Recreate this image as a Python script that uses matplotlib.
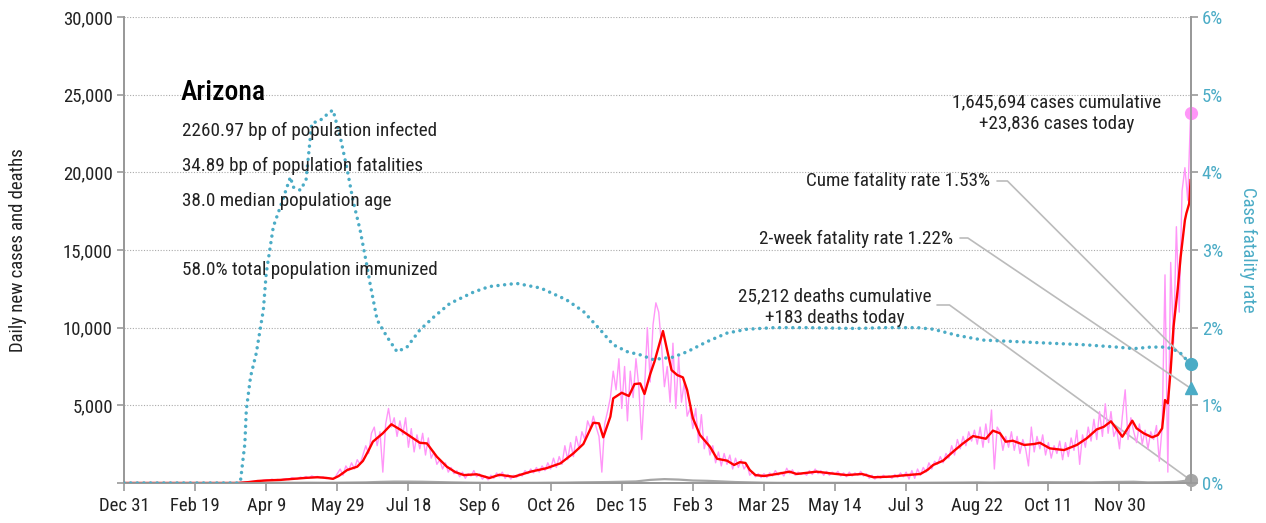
import numpy as np
import pandas as pd
import matplotlib
matplotlib.use("Agg")
import matplotlib.pyplot as plt
from matplotlib import font_manager
from matplotlib.ticker import FuncFormatter

# ---- data ----
start = pd.Timestamp("2019-12-31")

# daily new cases, one reading every 2 days (Dec 31 2019 .. Jan 19 2022)
cases_raw = [
    0, 0, 0, 0, 0, 0, 0, 0, 0, 0, 0, 0, 0, 0, 0, 0, 0, 0, 0, 0, 0, 0, 0, 0, 0,
    0, 0, 0, 0, 0, 0, 0, 0, 0, 0, 0, 0, 0, 0, 0, 10, 30, 50, 60, 90, 100, 120, 150, 130, 180,
    200, 160, 250, 180, 230, 190, 250, 280, 210, 350, 300, 260, 380, 330, 420, 300, 460, 380, 420, 350, 400, 280, 330, 250, 300,
    600, 900, 500, 1100, 800, 1300, 900, 1500, 1200, 1800, 2400, 1900, 3200, 3600, 2400, 3300, 700, 3800, 4800, 3600, 4200, 3000, 4000, 3100, 4200,
    2300, 3500, 2000, 3100, 2200, 3200, 1800, 2900, 1600, 2000, 1200, 1500, 900, 1300, 700, 1000, 600, 800, 400, 700, 300, 600, 450, 800, 400,
    600, 250, 450, 200, 500, 300, 650, 400, 700, 300, 550, 250, 500, 350, 600, 450, 800, 600, 900, 650, 1000, 700, 1100, 800, 1300,
    900, 1600, 1000, 1700, 1200, 2400, 1500, 2600, 1700, 3000, 2200, 3300, 2800, 4000, 3500, 4300, 3600, 3000, 700, 3800, 4600, 5500, 7200, 6000, 8000,
    4800, 7500, 4000, 7200, 5500, 8000, 6200, 2800, 6000, 10000, 6500, 10200, 11600, 11000, 8800, 6200, 7500, 5200, 9000, 4800, 8100, 5200, 6500, 4300, 4800,
    3500, 4800, 2600, 4400, 2200, 3000, 1800, 2400, 1300, 2000, 1100, 1900, 1200, 1800, 900, 1600, 1000, 1500, 900, 1200, 500, 700, 400, 600, 350,
    600, 350, 650, 450, 800, 500, 700, 450, 950, 600, 850, 500, 700, 550, 650, 500, 800, 550, 900, 600, 800, 500, 750, 500, 700,
    550, 750, 450, 650, 400, 700, 450, 650, 500, 750, 450, 600, 300, 500, 250, 450, 300, 500, 350, 450, 300, 550, 350, 650, 400,
    700, 250, 800, 300, 900, 500, 1000, 700, 1300, 900, 1400, 1200, 1700, 1300, 1900, 1600, 2400, 1800, 2800, 2200, 3000, 2400, 3300, 2700, 3400,
    2500, 3600, 2300, 3800, 2600, 4700, 900, 3600, 3300, 2100, 3000, 2300, 3300, 2100, 3000, 1900, 2800, 2200, 1100, 3600, 2000, 3000, 2200, 3100, 1800,
    2600, 1600, 2400, 1900, 2700, 1500, 2600, 1700, 2900, 2100, 3400, 1200, 3100, 2300, 3600, 2700, 4100, 2800, 4600, 3000, 5100, 3200, 4600, 3000, 3500,
    2200, 4300, 6000, 2800, 4200, 3300, 2600, 3800, 2500, 3400, 2200, 3300, 2800, 3700, 1400, 3600, 13400, 700, 14200, 9000, 16500, 11000, 18800, 20300, 18200,
    23836,
]

# 7-day average of cases (day offset from Dec 31 2019, value)
avg_days = [0, 80, 88, 94, 101, 110, 121, 128, 136, 142, 147, 151, 157, 164, 168, 172, 175, 182, 188, 194,
            201, 208, 213, 220, 227, 233, 239, 248, 257, 264, 274, 286, 297, 307, 316, 323, 330, 334, 337, 342,
            344, 350, 355, 359, 363, 366, 370, 373, 379, 385, 389, 393, 396, 400, 405, 412, 417, 424, 429, 433,
            437, 440, 444, 450, 459, 468, 473, 487, 497, 508, 519, 527, 539, 548, 560, 565, 569, 576, 583, 590,
            597, 606, 611, 616, 620, 625, 633, 640, 644, 651, 661, 670, 677, 684, 689, 694, 702, 705, 709, 712,
            717, 723, 727, 730, 732, 734, 736, 738, 741, 743, 746, 747, 749, 750]
avg_cases = [0, 0, 60, 130, 170, 200, 280, 330, 370, 330, 270, 450, 840, 1050, 1420, 2100, 2660, 3200, 3780, 3450,
             3020, 2590, 2550, 1690, 1050, 700, 510, 560, 320, 530, 400, 730, 950, 1270, 1910, 2510, 3880, 3840, 2940, 4270,
             5450, 5810, 5600, 6370, 6410, 5730, 7010, 7810, 9780, 7270, 6950, 6800, 5980, 4180, 3090, 2340, 1560, 1440, 1160, 1340,
             1290, 840, 510, 450, 580, 730, 580, 730, 620, 510, 580, 370, 410, 490, 580, 840, 1160, 1440, 2020, 2550,
             3020, 2850, 3370, 3200, 2660, 2720, 2450, 2510, 2590, 2230, 2120, 2450, 2880, 3450, 3620, 3970, 2980, 3410, 4010, 3520,
             3200, 2940, 3090, 3520, 5340, 5130, 7300, 10060, 12530, 14560, 16920, 17350, 17990, 19500]

# daily deaths, one reading every 10 days
deaths = [0, 0, 0, 0, 0, 0, 0, 0, 5, 10, 15, 20, 15, 20, 15, 20, 30, 40, 70, 90,
          90, 80, 60, 40, 25, 15, 10, 10, 10, 12, 20, 25, 40, 50, 60, 80, 100, 200, 250, 220,
          160, 140, 100, 60, 40, 20, 10, 10, 10, 10, 10, 10, 8, 6, 8, 10, 15, 20, 25, 30,
          40, 30, 40, 40, 45, 50, 45, 50, 40, 60, 70, 80, 40, 50, 70, 183]

# cumulative case fatality rate, percent
cfr_days = [0, 81, 82, 85, 86, 89, 93, 98, 100, 105, 110, 117, 119, 124, 128, 132, 138, 145, 147, 152,
            157, 161, 166, 171, 173, 178, 185, 192, 199, 208, 218, 229, 246, 257, 276, 293, 311, 323, 335, 344,
            354, 363, 372, 386, 396, 410, 424, 438, 457, 480, 515, 534, 558, 569, 586, 604, 628, 651, 675, 698,
            710, 722, 733, 742, 750]
cfr_pct = [0, 0, 0.04, 0.51, 0.94, 1.37, 1.67, 2.23, 2.7, 3.30, 3.56, 3.94, 3.81, 3.77, 3.90, 4.63, 4.67, 4.78, 4.80, 4.46,
           4.03, 3.64, 3.26, 2.78, 2.57, 2.10, 1.88, 1.69, 1.75, 1.97, 2.14, 2.31, 2.46, 2.53, 2.57, 2.51, 2.36, 2.21, 1.97, 1.78,
           1.69, 1.65, 1.59, 1.62, 1.69, 1.82, 1.93, 1.98, 2.00, 2.00, 1.99, 2.00, 2.00, 1.98, 1.90, 1.84, 1.82, 1.80, 1.78, 1.75,
           1.73, 1.75, 1.75, 1.69, 1.53]

cases_today = 23836
cases_total = "1,645,694"
deaths_today = 183
deaths_total = "25,212"
cume_cfr = 1.53
two_week_cfr = 1.22

state = "Arizona"
stats = ["2260.97 bp of population infected",
         "34.89 bp of population fatalities",
         "38.0 median population age",
         "58.0% total population immunized"]

# ---- fonts ----
names = {f.name for f in font_manager.fontManager.ttflist}
font = "DejaVu Sans"
for cand in ["Roboto Condensed", "Liberation Sans Narrow", "Open Sans Condensed", "DejaVu Sans"]:
    if cand in names:
        font = cand
        break
plt.rcParams["font.family"] = [font, "DejaVu Sans"]
plt.rcParams["font.stretch"] = "condensed"

TEAL = "#4BACC6"
PINK = "#FF96F8"
GREY = "#A6A6A6"
DARK = "#222222"

case_dates = pd.date_range(start, periods=len(cases_raw), freq="2D")
death_dates = pd.date_range(start, periods=len(deaths), freq="10D")
avg_dates = start + pd.to_timedelta(avg_days, unit="D")
cfr_dates = start + pd.to_timedelta(cfr_days, unit="D")
end = case_dates[-1]

W, H = 1266, 523
fig = plt.figure(figsize=(W / 100, H / 100), dpi=100)
ax = fig.add_axes([124 / W, 1 - 483 / H, (1190.6 - 124) / W, (483 - 17) / H])
ax2 = ax.twinx()

ax.plot(case_dates, cases_raw, color=PINK, lw=1.0, zorder=2)
ax.plot(death_dates, deaths, color=GREY, lw=1.6, zorder=2)
ax.plot(avg_dates, avg_cases, color="red", lw=1.7, zorder=3)
ax.plot([end], [cases_today], "o", color=PINK, ms=8.5, clip_on=False, zorder=5)
ax.plot([end], [deaths_today], "o", color=GREY, ms=8.5, clip_on=False, zorder=5)

ax2.plot(cfr_dates, cfr_pct, color=TEAL, lw=2.5, linestyle=(0, (0.01, 1.9)),
         dash_capstyle="round", zorder=4)
ax2.plot([end], [cume_cfr], "o", color=TEAL, ms=8.5, clip_on=False, zorder=5)
ax2.plot([end], [two_week_cfr], "^", color=TEAL, ms=9, clip_on=False, zorder=5)

# axes styling
ax.set_xlim(start, end)
ax.set_ylim(0, 30000)
ax2.set_ylim(0, 6)
ax.set_xticks(pd.date_range(start, end, freq="50D"))
labels = [d.strftime("%b ") + str(d.day) for d in pd.date_range(start, end, freq="50D")]
labels[-1] = ""
ax.set_xticklabels(labels)
ax.set_yticks(range(0, 30001, 5000))
ax.yaxis.set_major_formatter(FuncFormatter(lambda v, p: "" if v == 0 else f"{int(v):,}"))
ax2.set_yticks(range(0, 7))
ax2.yaxis.set_major_formatter(FuncFormatter(lambda v, p: f"{int(v)}%"))

ax.grid(axis="y", color="#AAAAAA", linestyle=(0, (1, 1.5)), lw=0.8)
ax.set_axisbelow(True)
for a in (ax, ax2):
    a.spines["top"].set_visible(False)
    for s in ("left", "right", "bottom"):
        a.spines[s].set_color("#999999")
        a.spines[s].set_linewidth(1.3)
ax.tick_params(axis="x", colors="#999999", labelcolor=DARK, labelsize=13.5, length=6, width=1.2, pad=4)
ax.tick_params(axis="y", colors="#999999", labelcolor=DARK, labelsize=13.5, length=5, width=1.2, pad=3)
ax2.tick_params(axis="y", colors="#999999", labelcolor=TEAL, labelsize=13.5, length=5, width=1.2, pad=3)

fig.text(18 / W, 1 - 250 / H, "Daily new cases and deaths", rotation=90, ha="center", va="center",
         fontsize=13.5, color=DARK)
fig.text(1248 / W, 1 - 250 / H, "Case fatality rate", rotation=270, ha="center", va="center",
         fontsize=13.5, color=TEAL)

# state block
fig.text(181 / W, 1 - 92 / H, state, fontsize=20, ha="left", va="center", color="black",
         fontweight="medium")
for y, s in zip([131, 166, 201, 270], stats):
    fig.text(182 / W, 1 - y / H, s, fontsize=13.8, ha="left", va="center", color=DARK)

# annotations
fig.text(1057 / W, 1 - 113 / H, f"{cases_total} cases cumulative\n+{cases_today:,} cases today",
         ha="center", va="center", fontsize=13.8, color=DARK, linespacing=1.3)
fig.text(835 / W, 1 - 307 / H, f"{deaths_total} deaths cumulative\n+{deaths_today} deaths today",
         ha="center", va="center", fontsize=13.8, color=DARK, linespacing=1.3)
fig.text(990 / W, 1 - 181 / H, f"Cume fatality rate {cume_cfr:.2f}%", ha="right", va="center",
         fontsize=13.8, color=DARK)
fig.text(953 / W, 1 - 239 / H, f"2-week fatality rate {two_week_cfr:.2f}%", ha="right", va="center",
         fontsize=13.8, color=DARK)

lead = dict(arrowstyle="-", color="#BBBBBB", lw=1.2, shrinkA=0, shrinkB=0)
ax2.annotate("", xy=(end, cume_cfr), xycoords="data", xytext=(997, H - 181), textcoords="figure pixels",
             arrowprops=dict(lead, connectionstyle="angle,angleA=0,angleB=135,rad=0"), zorder=1)
ax2.annotate("", xy=(end, two_week_cfr), xycoords="data", xytext=(960, H - 238), textcoords="figure pixels",
             arrowprops=dict(lead, connectionstyle="angle,angleA=0,angleB=146,rad=0"), zorder=1)
ax.annotate("", xy=(end, deaths_today), xycoords="data", xytext=(937, H - 305), textcoords="figure pixels",
            arrowprops=dict(lead, connectionstyle="angle,angleA=0,angleB=144,rad=0"), zorder=1)

fig.savefig("out.png", dpi=100)
